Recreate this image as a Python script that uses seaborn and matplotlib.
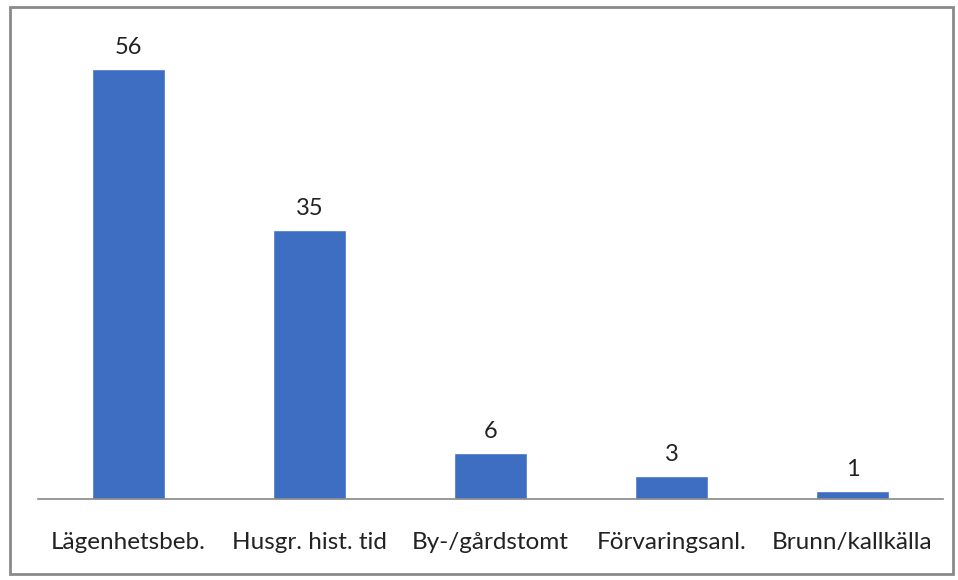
import matplotlib
matplotlib.use("Agg")
import matplotlib.pyplot as plt
import seaborn as sns
import pandas as pd
from matplotlib.patches import Rectangle

categories = ["Lägenhetsbeb.", "Husgr. hist. tid", "By-/gårdstomt", "Förvaringsanl.", "Brunn/kallkälla"]
values = [56, 35, 6, 3, 1]

sns.set_theme(style="white")
plt.rcParams['font.family'] = ['Lato', 'DejaVu Sans']

W, H = 958, 580
fig = plt.figure(figsize=(W / 100, H / 100), dpi=100)
ax = fig.add_axes([38 / W, 1 - 499 / H, (943 - 38) / W, (499 - 38) / H])

df = pd.DataFrame({"cat": categories, "val": values})
sns.barplot(data=df, x="cat", y="val", ax=ax, color="#3E6EC2", saturation=1, width=0.4)

ax.set_xlim(-0.5, len(categories) - 0.5)
ax.set_ylim(0, 60)
for c in ax.containers:
    ax.bar_label(c, padding=8, fontsize=17, color="#222222")

ax.set_xlabel("")
ax.set_ylabel("")
ax.set_yticks([])
ax.tick_params(axis="x", labelsize=17.5, length=0, pad=24, colors="#222222")
for s in ["top", "right", "left"]:
    ax.spines[s].set_visible(False)
ax.spines["bottom"].set_color("#888888")
ax.spines["bottom"].set_linewidth(1.2)

fig.patches.append(Rectangle((10 / W, 1 - 574 / H), (953 - 10) / W, (574 - 7) / H,
                             transform=fig.transFigure, fill=False,
                             edgecolor="#8a8a8a", linewidth=2))

fig.savefig("out.png", dpi=100)
